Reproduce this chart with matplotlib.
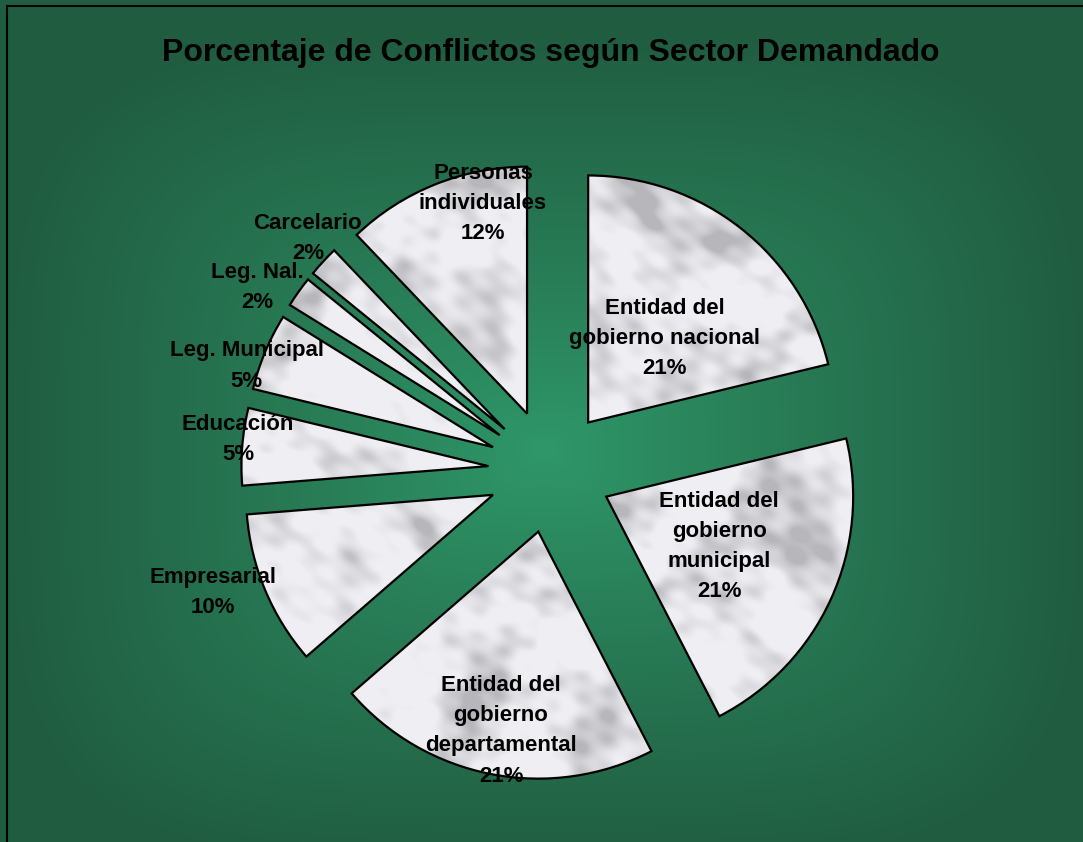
import numpy as np
import matplotlib
matplotlib.use("Agg")
import matplotlib.pyplot as plt
from matplotlib.patches import Rectangle

# ── Data ──────────────────────────────────────────────────────────────────────
sectors = ["Entidad del\ngobierno nacional", "Entidad del\ngobierno\nmunicipal",
           "Entidad del\ngobierno\ndepartamental", "Empresarial", "Educación",
           "Leg. Municipal", "Leg. Nal.", "Carcelario", "Personas\nindividuales"]
percent = [21, 21, 21, 10, 5, 5, 2, 2, 12]

# label placement relative to each (exploded) wedge: distance in radii, angle turn (deg)
label_dist = [0.46, 0.50, 0.82, 1.20, 1.02, 1.05, 1.15, 1.11, 0.87]
label_turn = [-4.1, 0.7, 0.3, -3.5, -1.5, 4.5, 4.1, -1.4, -10.0]

# ── Layout (pixels) ───────────────────────────────────────────────────────────
W, H = 1083, 842
CX, CY, R = 550, 471, 247      # pie centre and radius in pixels

plt.rcParams['font.family'] = ['Liberation Sans', 'DejaVu Sans']

fig = plt.figure(figsize=(W / 100, H / 100), dpi=100)
ax = fig.add_axes([0, 0, 1, 1])
x0, x1 = -CX / R, (W - CX) / R
y0, y1 = -(H - CY) / R, CY / R


def px(x, y):
    return (x - CX) / R, (CY - y) / R


# background: rectangular green gradient, lighter in the middle
gx, gy = np.meshgrid(np.arange(W) + 0.5, np.arange(H) + 0.5)
t = ((np.abs(gx - 545) / 545) ** 4 + (np.abs(gy - 450) / 420) ** 4) ** 0.25
t = np.clip(t, 0, 1) ** 0.9
c_in = np.array([47, 152, 106]) / 255
c_out = np.array([32, 92, 64]) / 255
bg = c_in[None, None, :] * (1 - t[..., None]) + c_out[None, None, :] * t[..., None]
ax.imshow(bg, extent=(x0, x1, y0, y1), origin='upper', zorder=0,
          interpolation='bilinear', aspect='auto')

# marble-like (cloudy grey) texture for the slices
warp = 2.2 * np.sin(0.012 * gx + 0.009 * gy) + 1.4 * np.sin(0.017 * gy - 0.006 * gx)
n = np.zeros_like(gx)
for f, ang, ph in [(0.022, 0.35, 0.0), (0.031, 1.15, 1.3), (0.046, 2.05, 2.1),
                   (0.058, 2.75, 0.7), (0.083, 0.75, 2.9), (0.115, 1.65, 1.9),
                   (0.15, 2.45, 0.4), (0.2, 0.1, 1.1), (0.26, 1.35, 2.4),
                   (0.33, 2.2, 0.9)]:
    u = np.cos(ang) * gx + np.sin(ang) * gy
    n += np.sin(f * u + ph + warp) * (0.022 / f) ** 0.45
n = (n - n.min()) / (n.max() - n.min())
s = np.clip((n - 0.42) / 0.4, 0, 1)
g = 0.935 - 0.22 * s ** 1.3
tex = np.dstack([g, g, np.clip(g + 0.02, 0, 1)])

wedges, _ = ax.pie(percent, explode=[0.25] * len(percent), startangle=90,
                   counterclock=False, radius=1, center=(0, 0),
                   colors=['none'] * len(percent), frame=True,
                   wedgeprops=dict(edgecolor='black', linewidth=1.6, zorder=3))

for w in wedges:
    im = ax.imshow(tex, extent=(x0, x1, y0, y1), origin='upper', zorder=2,
                   interpolation='bilinear', aspect='auto')
    im.set_clip_path(w)

for w, name, p, d, turn in zip(wedges, sectors, percent, label_dist, label_turn):
    a = np.deg2rad((w.theta1 + w.theta2) / 2 + turn)
    cx, cy = w.center
    ax.text(cx + d * w.r * np.cos(a), cy + d * w.r * np.sin(a), f"{name}\n{p}%",
            ha='center', va='center', fontsize=16, fontweight='bold',
            linespacing=1.58, color='black', zorder=5)

# chart frame
fx, fy = px(7, 6)
fx2, fy2 = px(W + 5, H + 5)
ax.add_patch(Rectangle((fx, fy2), fx2 - fx, fy - fy2, fill=False,
                       edgecolor='black', linewidth=1.5, zorder=6))

ax.set_xlim(x0, x1)
ax.set_ylim(y0, y1)
ax.set_aspect('auto')
ax.axis('off')

fig.text(551 / W, 1 - 53 / H, "Porcentaje de Conflictos según Sector Demandado",
         ha='center', va='center', fontsize=23, fontweight='bold', color='black')

fig.savefig("out.png", dpi=100)
